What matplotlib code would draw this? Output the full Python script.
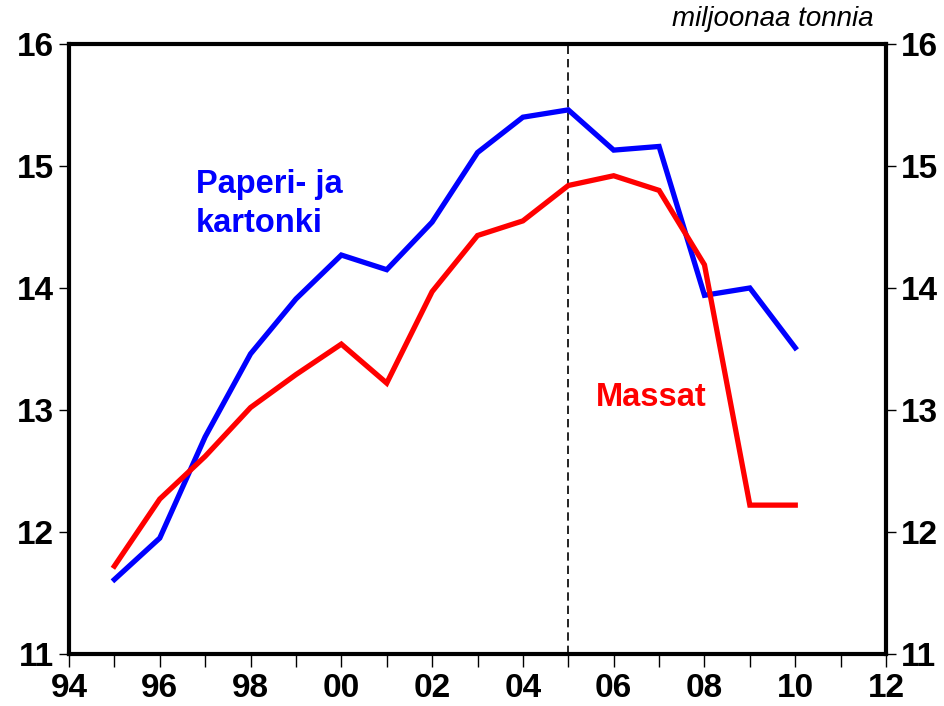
import matplotlib.pyplot as plt

# vuodet ja tuotanto (miljoonaa tonnia)
vuodet = [1995, 1996, 1997, 1998, 1999, 2000, 2001, 2002, 2003, 2004, 2005,
          2006, 2007, 2008, 2009, 2010]
paperi = [11.61, 11.95, 12.78, 13.46, 13.91, 14.27, 14.15, 14.54, 15.11, 15.40,
          15.46, 15.13, 15.16, 13.94, 14.00, 13.51]
massat = [11.72, 12.27, 12.62, 13.02, 13.29, 13.54, 13.22, 13.97, 14.43, 14.55,
          14.84, 14.92, 14.80, 14.19, 12.22, 12.22]
x_tikit = list(range(1994, 2013, 2))
x_nimet = ['94', '96', '98', '00', '02', '04', '06', '08', '10', '12']
y_tikit = [11, 12, 13, 14, 15, 16]

plt.rcParams['font.family'] = ['Liberation Sans', 'DejaVu Sans']

fig = plt.figure(figsize=(9.45, 7.06), dpi=100)
ax = fig.add_axes([0.073, 0.0737, 0.8646, 0.864])

ax.axvline(2005, color='black', linewidth=1.2, linestyle=(0, (5, 3)))
ax.plot(vuodet, paperi, color='#0000ff', linewidth=3.8, solid_joinstyle='miter')
ax.plot(vuodet, massat, color='#ff0000', linewidth=3.8, solid_joinstyle='miter')

ax.set_xlim(1994, 2012)
ax.set_ylim(11, 16)
ax.set_xticks(x_tikit)
ax.set_xticklabels(x_nimet)
ax.set_xticks(range(1994, 2013), minor=True)
ax.set_yticks(y_tikit)
ax.tick_params(axis='y', which='both', left=True, right=True, labelleft=True,
               labelright=True, direction='out', length=7, width=1,
               labelsize=24, pad=4)
ax.tick_params(axis='x', which='both', direction='out', length=9, width=1,
               labelsize=24, pad=5)
for lab in ax.get_xticklabels() + ax.get_yticklabels():
    lab.set_fontweight('bold')
for t in ax.yaxis.get_major_ticks():
    t.label2.set_fontweight('bold')
for s in ax.spines.values():
    s.set_linewidth(3)

ax.text(0.985, 1.02, 'miljoonaa tonnia', transform=ax.transAxes, ha='right',
        va='bottom', fontsize=20, style='italic')
ax.text(1996.8, 14.69, 'Paperi- ja\nkartonki', color='#0000ff', fontsize=23.5,
        fontweight='bold', va='center', ha='left', linespacing=1.35)
ax.text(2005.6, 13.1, 'Massat', color='#ff0000', fontsize=23.5,
        fontweight='bold', va='center', ha='left')

fig.savefig('out.png', dpi=100)
